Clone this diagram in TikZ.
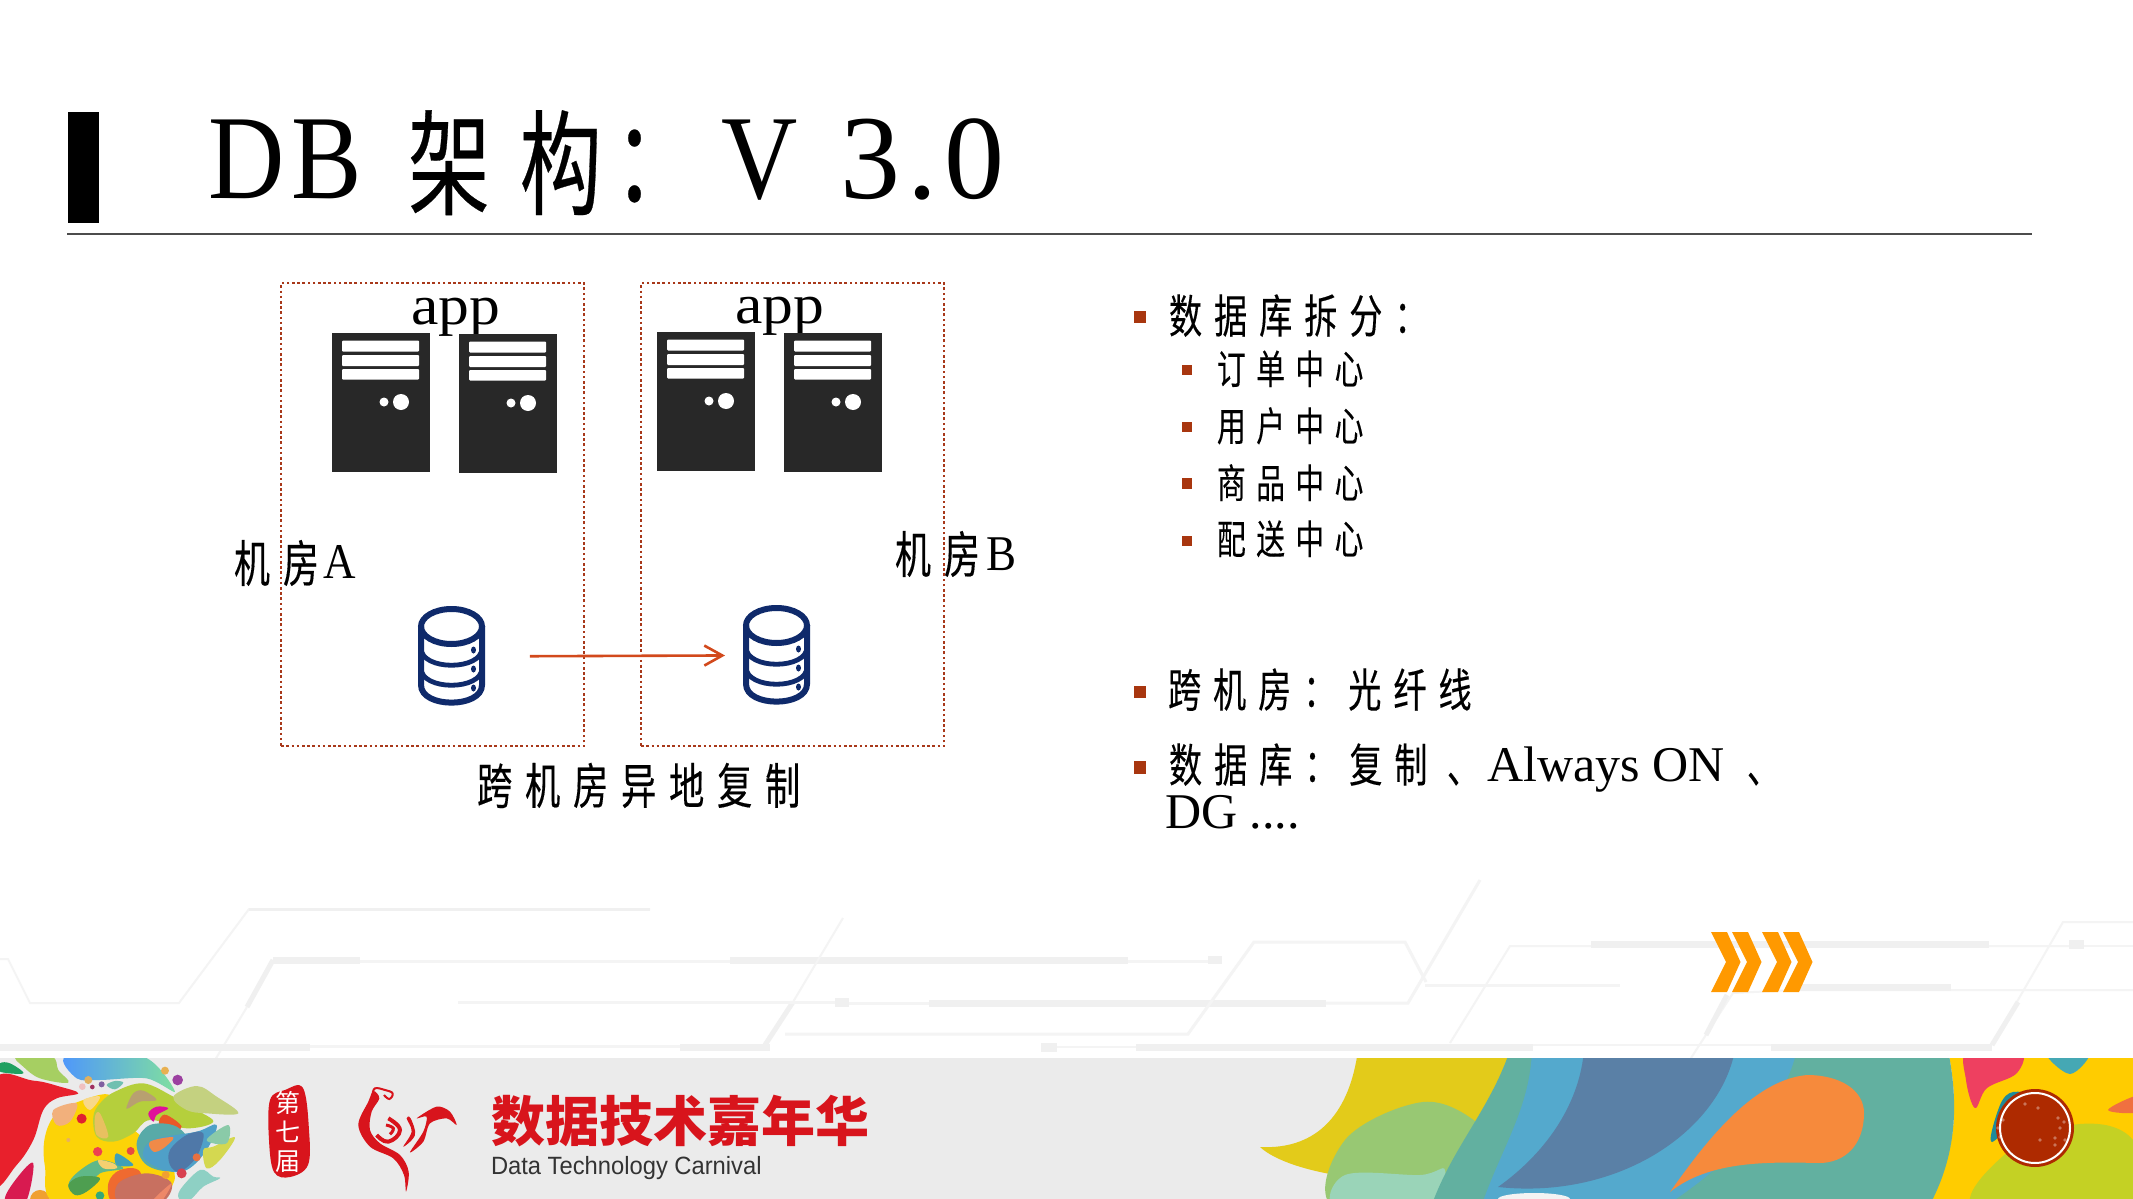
\documentclass[tikz,border=0pt]{standalone}
\usepackage{fontspec}
\usetikzlibrary{arrows.meta}
\setmainfont{Liberation Serif}
\newfontfamily\cjk[FakeStretch=0.72,LetterSpace=26,FakeBold=0.25]{Noto Sans CJK SC}
\newfontfamily\titlelat[FakeStretch=0.88,LetterSpace=6]{Liberation Serif}
\newfontfamily\titlenum[FakeStretch=1.0,LetterSpace=6]{Liberation Serif}
\newfontfamily\applat[FakeStretch=1.1]{Liberation Serif}
\newfontfamily\roomlat[FakeStretch=0.9]{Liberation Serif}
\newfontfamily\cjkplain{Noto Sans CJK SC}
\newfontfamily\banlat[FakeStretch=0.95]{Liberation Sans}
\definecolor{srv}{HTML}{282828}
\definecolor{navy}{HTML}{0F2A6B}
\definecolor{rust}{HTML}{A8360F}
\definecolor{arrowc}{HTML}{D2491C}
\definecolor{dotc}{HTML}{A8381A}
\definecolor{bant}{HTML}{EBEBEB}
\definecolor{thickl}{HTML}{F0F0F0}
\definecolor{thinl}{HTML}{F4F4F4}
\definecolor{chev}{HTML}{FF9900}
\definecolor{logored}{HTML}{D8141C}
\tikzset{
  txt/.style={inner sep=0pt,outer sep=0pt,anchor=base west,text=black},
  room/.style={draw=dotc,line width=1.2pt,dash pattern=on 1.3pt off 1.3pt,rectangle,inner sep=0pt},
  srvbox/.style={fill=srv,rectangle,inner sep=0pt,minimum width=49pt,minimum height=69.5pt,anchor=north west},
  dbbox/.style={rectangle,inner sep=0pt,minimum width=33.5pt,minimum height=50pt,anchor=north west},
  thickln/.style={draw=thickl,line width=3.5pt},
  midln/.style={draw=thickl,line width=2.5pt},
  thinln/.style={draw=thinl,line width=1pt},
  chevron/.style={fill=chev},
  bullet/.style={fill=rust},
}
\newcommand{\blob}[2]{\definecolor{tmpc}{HTML}{#1}\fill[tmpc] plot[smooth cycle,tension=.6] coordinates {#2};}
\newcommand{\spot}[4]{\definecolor{tmpc}{HTML}{#1}\fill[tmpc] (#2,#3) circle[radius=#4];}
\newcommand{\serverbox}[3]{%
  \node[srvbox] (#1) at (#2,#3) {};
  \begin{scope}[shift={(#2,#3)}]
    \fill[white,rounded corners=0.5pt] (10,7.5) rectangle (87,18.5);
    \fill[white,rounded corners=0.5pt] (10,22) rectangle (87,33);
    \fill[white,rounded corners=0.5pt] (10,36) rectangle (87,46.5);
    \fill[white] (52,69) circle[radius=4.5];
    \fill[white] (69,69) ellipse[x radius=8,y radius=8];
  \end{scope}}
\newcommand{\dbicon}[3]{%
  \node[dbbox] (#1) at (#2,#3) {};
  \begin{scope}[shift={(#2,#3)}]
    \draw[navy,line width=3pt] (33.5,20.5) ellipse[x radius=30.5,y radius=17.5];
    \draw[navy,line width=3pt] (3,20) -- (3,79) .. controls (3,102.5) and (64,102.5) .. (64,79) -- (64,20);
    \draw[navy,line width=2.4pt] (3,42) .. controls (3,65) and (64,65) .. (64,42);
    \draw[navy,line width=2.4pt] (3,62) .. controls (3,85) and (64,85) .. (64,62);
    \fill[navy] (55.5,44) ellipse[x radius=2.5,y radius=3.5];
    \fill[navy] (55.5,63) ellipse[x radius=2.5,y radius=3.5];
    \fill[navy] (55.5,82) ellipse[x radius=2.5,y radius=3.5];
  \end{scope}}
\newcommand{\chevat}[1]{\fill[chevron,shift={(#1,0)}] (1711,932) -- (1727,932) -- (1740.5,962) -- (1727,992) -- (1711,992) -- (1726,962) -- cycle;}
\begin{document}
\begin{tikzpicture}[x=0.5pt,y=-0.5pt]
\useasboundingbox (0,0) rectangle (2133,1199);
\fill[white] (0,0) rectangle (2133,1199);

% faint circuit background
\draw[thinln] (0,959) -- (8,959) -- (30,1003) -- (179,1003) -- (249,909) -- (650,909);
\draw[midln,line width=1.5pt] (249,909) -- (650,909);
\draw[thickln] (273,960) -- (360,960);
\draw[midln] (273,960) -- (247,1007);
\draw[thinln] (247,1007) -- (215,1060);
\draw[thinln,line width=1.5pt] (360,961) -- (730,961);
\draw[thickln] (730,960) -- (1128,960);
\draw[thinln,line width=1.5pt] (1128,961) -- (1212,961);
\fill[thickl] (1208,956) rectangle (1222,964);
\draw[thinln] (843,918) -- (793,1002);
\draw[midln] (793,1002) -- (765,1045);
\draw[thickln] (680,1047) -- (770,1047);
\draw[thinln,line width=1.5pt] (310,1046) -- (680,1046);
\draw[thickln] (0,1047) -- (310,1047);
\draw[thinln,line width=1.5pt] (458,1002) -- (837,1002);
\fill[thickl] (835,998) rectangle (849,1007);
\draw[thinln,line width=1.5pt] (849,1003) -- (929,1003);
\draw[thickln] (929,1003) -- (1326,1003);
\draw[thinln,line width=1.5pt] (1326,1003) -- (1408,1003) -- (1480,880);
\draw[thinln,line width=1.5pt] (785,1034) -- (1188,1034) -- (1254,942) -- (1405,942) -- (1426,982);
\draw[thinln,line width=1.5pt] (1425,985) -- (1620,985);
\fill[thickl] (1041,1043) rectangle (1057,1052);
\draw[thinln] (1057,1047) -- (1136,1047);
\draw[thickln] (1136,1047) -- (1533,1047);
\draw[thinln] (1533,1045) -- (1771,1045);
\draw[thickln] (1771,1047) -- (1992,1047);
\draw[thinln] (1450,1043) -- (1510,946) -- (2069,946);
\draw[thickln] (1591,944) -- (1989,944);
\fill[thickl] (2069,940) rectangle (2084,949);
\draw[thinln] (2084,946) -- (2133,946);
\draw[thinln] (1733,993) -- (1795,990) -- (2133,990);
\draw[thickln] (1795,987) -- (1951,987);
\draw[thinln] (1733,993) -- (1691,1058);
\draw[midln] (1727,995) -- (1706,1035);
\draw[thinln] (2133,922) -- (2063,922) -- (1992,1045);
\draw[midln] (2018,1002) -- (1992,1045);

% title
\fill[black] (68,112) rectangle (99,223);
\draw[draw=black!70,line width=1pt] (67,234) -- (2032,234);
\node[txt,font=\titlelat\fontsize{60pt}{60pt}\selectfont] (tDB) at (208,198) {DB};
\node[txt,font=\cjk\fontsize{57pt}{57pt}\selectfont] (tCN) at (408,206) {架构};
\node[txt,font=\cjk\fontsize{57pt}{57pt}\selectfont] (tCo) at (614,202) {：};
\node[txt,font=\titlelat\fontsize{60pt}{60pt}\selectfont] (tV) at (721,198) {V};
\node[txt,font=\titlenum\fontsize{60pt}{60pt}\selectfont] (tN) at (840,198) {3.0};

% rooms
\node[room,minimum width=151.5pt,minimum height=231.5pt,anchor=north west] (roomA) at (280,282) {};
\node[room,minimum width=151.5pt,minimum height=231.5pt,anchor=north west] (roomB) at (640,282) {};
\node[txt,font=\applat\fontsize{28pt}{28pt}\selectfont] (appA) at (411,324) {app};
\node[txt,font=\applat\fontsize{28pt}{28pt}\selectfont] (appB) at (735,323) {app};
\serverbox{sA1}{332}{333}
\serverbox{sA2}{459}{334}
\serverbox{sB1}{657}{332}
\serverbox{sB2}{784}{333}
\dbicon{dbA}{418}{606}
\dbicon{dbB}{743}{605}
\draw[arrowc,line width=1.3pt,-{Straight Barb[length=9pt,width=10pt]},shorten <=22pt,shorten >=9pt,yshift=0.7pt] (dbA.east) -- (dbB.west);
\node[txt,font=\cjk\fontsize{25pt}{25pt}\selectfont] (rA) at (234,582) {机房};
\node[txt,font=\roomlat\fontsize{25pt}{25pt}\selectfont] (rAl) at (323,578) {A};
\node[txt,font=\cjk\fontsize{25pt}{25pt}\selectfont] (rB) at (895,573) {机房};
\node[txt,font=\roomlat\fontsize{25pt}{25pt}\selectfont] (rBl) at (986,570) {B};
\node[txt,font=\cjk\fontsize{24.5pt}{24.5pt}\selectfont] (cap) at (477,804) {跨机房异地复制};

% bullets
\fill[bullet] (1134,311) rectangle (1146,323);
\fill[bullet] (1182,365) rectangle (1192,375);
\fill[bullet] (1182,422) rectangle (1192,432);
\fill[bullet] (1182,478) rectangle (1192,489);
\fill[bullet] (1182,535.5) rectangle (1192,546);
\fill[bullet] (1134,686) rectangle (1146,698);
\fill[bullet] (1134,761) rectangle (1146,774);
\node[txt,font=\cjk\fontsize{23pt}{23pt}\selectfont] (b1) at (1169,333) {数据库拆分：};
\node[txt,font=\cjk\fontsize{20pt}{20pt}\selectfont] (b11) at (1217,384) {订单中心};
\node[txt,font=\cjk\fontsize{20pt}{20pt}\selectfont] (b12) at (1217,441) {用户中心};
\node[txt,font=\cjk\fontsize{20pt}{20pt}\selectfont] (b13) at (1217,498) {商品中心};
\node[txt,font=\cjk\fontsize{20pt}{20pt}\selectfont] (b14) at (1217,554) {配送中心};
\node[txt,font=\cjk\fontsize{23pt}{23pt}\selectfont] (b2) at (1168,707) {跨机房：光纤线};
\node[txt,font=\cjk\fontsize{23pt}{23pt}\selectfont] (b3) at (1169,782) {数据库：复制};
\node[txt,font=\cjk\fontsize{23pt}{23pt}\selectfont] (b3m) at (1447,783) {、};
\node[txt,font=\fontsize{25pt}{25pt}\selectfont] (b3l) at (1487,781) {Always ON};
\node[txt,font=\cjk\fontsize{23pt}{23pt}\selectfont] (b3e) at (1747,783) {、};
\node[txt,font=\fontsize{25pt}{25pt}\selectfont] (b4) at (1165,828) {DG ....};

% chevrons
\chevat{0}\chevat{21}\chevat{51}\chevat{72}

% banner
\fill[bant] (0,1058) rectangle (2133,1199);
\begin{scope}
\clip (0,1058) rectangle (2133,1199);
% left splash
\begin{scope}[shift={(0,1050)},scale=0.3333]
\blob{1FA060}{(0,40) (30,40) (70,70) (0,65)}
\blob{A6CF62}{(50,20) (155,20) (175,60) (205,98) (120,85) (70,50)}
\shade[left color=blue!60!cyan!70!white,right color=teal!50!green!50!white] plot[smooth cycle,tension=.5] coordinates {(198,20) (430,20) (525,125) (440,85) (300,90) (230,85)};
\blob{E8202C}{(-20,95) (100,92) (180,110) (235,130) (170,145) (130,180) (100,270) (50,345) (-20,400)}
\blob{D81A50}{(100,340) (50,385) (15,450) (75,460)}
\spot{F0A030}{120}{450}{30}
\blob{FCD307}{(250,150) (330,135) (360,200) (500,330) (520,400) (440,460) (170,460) (135,350) (135,260) (170,190)}
\blob{B5CF3C}{(345,125) (430,100) (520,140) (580,175) (640,215) (560,235) (450,210) (400,250) (340,275) (290,260) (280,200) (300,160)}
\blob{C4D180}{(520,140) (590,108) (650,140) (715,190) (620,190) (560,180)}
\blob{B8A070}{(380,170) (400,130) (430,122) (470,150) (420,155) (385,175)}
\blob{F2B07C}{(160,180) (230,160) (210,215) (170,225)}
\blob{F8D888}{(250,150) (300,140) (270,180)}
\blob{E8C060}{(285,200) (300,190) (325,260) (290,255)}
\blob{E0109A}{(445,190) (470,170) (505,175) (470,195) (460,215)}
\blob{E85828}{(480,205) (500,195) (545,230) (510,248) (480,230)}
\blob{58AAA8}{(410,280) (450,225) (530,230) (570,290) (520,360) (440,345)}
\blob{4FA0C8}{(460,270) (590,245) (650,225) (620,300) (560,360) (490,360) (430,320)}
\blob{4F78A8}{(510,300) (560,255) (610,250) (590,320) (540,365) (510,345)}
\blob{F08A48}{(450,275) (520,262) (490,295) (460,305)}
\blob{5FB888}{(235,365) (300,330) (370,355) (300,370) (270,410) (230,435) (205,405)}
\blob{4E9E50}{(205,405) (240,380) (300,385) (260,425) (225,435)}
\blob{F4D070}{(295,330) (340,340) (350,355) (310,355)}
\blob{3FA0B8}{(350,310) (400,345) (350,345)}
\blob{EF6A30}{(325,400) (360,360) (420,365) (430,460) (340,460)}
\blob{C87060}{(355,400) (440,370) (515,400) (480,460) (360,460)}
\blob{EE8868}{(450,460) (515,400) (480,460)}
\blob{8ED0C4}{(540,420) (600,360) (640,380) (660,385) (610,410) (570,450) (540,450)}
\blob{D4D850}{(610,300) (640,290) (705,262) (660,330) (620,355)}
\blob{8ACAA8}{(620,270) (685,225) (680,280)}
\spot{E02030}{245}{206}{15}
\spot{E8B060}{205}{270}{6}
\spot{EE4050}{293}{305}{14}
\spot{E84A40}{392}{303}{12}
\spot{D84050}{545}{370}{15}
\spot{F0A030}{497}{375}{12}
\spot{E87040}{590}{322}{12}
\spot{35A878}{300}{437}{13}
\spot{E8B050}{495}{62}{12}
\spot{9C40A0}{533}{90}{16}
\spot{E0B060}{265}{90}{12}
\spot{F0C0C0}{247}{110}{10}
\spot{A03060}{277}{111}{7}
\spot{8060A0}{305}{103}{9}
\blob{70C0B0}{(320,105) (345,93) (370,98) (345,118)}
\end{scope}
% right splash
\definecolor{tmpc}{HTML}{E3CB1A}
\fill[tmpc] (1358,1050) .. controls (1350,1110) and (1320,1150) .. (1260,1147) .. controls (1290,1175) and (1400,1190) .. (1438,1170) -- (1530,1050) -- cycle;
\blob{98C873}{(1423,1102) (1480,1125) (1498,1163) (1490,1210) (1337,1210) (1345,1140)}
\blob{9AD4B8}{(1337,1210) (1345,1175) (1420,1175) (1445,1170) (1430,1210)}
\definecolor{tmpc}{HTML}{FFCC00}
\fill[tmpc] (1948,1050) .. controls (1960,1110) and (1955,1160) .. (1927,1199) -- (2133,1199) -- (2133,1050) -- cycle;
\definecolor{tmpc}{HTML}{62B0A0}
\fill[tmpc] (1510,1050) -- (1948,1050) .. controls (1960,1110) and (1955,1160) .. (1927,1210) -- (1430,1210) .. controls (1450,1150) and (1490,1110) .. (1510,1050) -- cycle;
\definecolor{tmpc}{HTML}{54A9CD}
\fill[tmpc] (1532,1050) -- (1797,1050) .. controls (1780,1120) and (1720,1170) .. (1660,1210) -- (1480,1210) .. controls (1500,1150) and (1530,1110) .. (1532,1050) -- cycle;
\definecolor{tmpc}{HTML}{5A80A6}
\fill[tmpc] (1584,1050) -- (1735,1050) .. controls (1720,1130) and (1620,1200) .. (1498,1187) .. controls (1550,1150) and (1580,1100) .. (1584,1050) -- cycle;
\definecolor{tmpc}{HTML}{F68A3C}
\fill[tmpc] (1807,1075) .. controls (1840,1075) and (1864,1090) .. (1864,1113) .. controls (1864,1145) and (1845,1163) .. (1819,1163) .. controls (1770,1162) and (1710,1160) .. (1670,1192) .. controls (1700,1150) and (1750,1080) .. (1807,1075) -- cycle;
\fill[bant!60!white] (1534,1199) ellipse[x radius=36,y radius=6];
\blob{C4D124}{(1977,1210) (2010,1150) (2080,1124) (2133,1140) (2150,1210)}
\blob{EE4060}{(1968,1050) (2020,1050) (2017,1073) (1987,1088) (1975,1108) (1966,1080)}
\blob{45A8B4}{(2045,1050) (2090,1050) (2070,1074)}
\blob{F07040}{(2108,1110) (2140,1095) (2140,1112)}
\blob{1F8A9A}{(1992,1142) (2000,1105) (2013,1092) (2030,1100)}
\definecolor{tmpc}{HTML}{AE2A00}
\fill[tmpc] (2035,1128) circle[radius=39];
\draw[white,line width=1pt] (2035,1128) circle[radius=35];
\foreach \p/\q in {2060/1128,2065/1140,2055/1138,2058/1118,2038/1108,2025/1104,2040/1140,2064/1122,1998/1128,2003/1120,2000/1137,2055/1145}{\fill[white,opacity=.35] (\p,\q) circle[radius=1.8];}
\end{scope}

% event mark
\blob{D8141C}{(270,1100) (285,1090) (303,1088) (309,1130) (308,1165) (290,1177) (274,1172) (269,1140)}
\node[inner sep=0pt,align=center,text=white,font=\cjkplain\fontsize{12.5pt}{14.5pt}\selectfont] (ed) at (288,1132) {第\\七\\届};
% bird
\begin{scope}[shift={(260,1075)},scale=0.3333]
\fill[logored] plot[smooth cycle,tension=.55] coordinates {(340,48) (325,80) (295,150) (330,215) (400,250) (432,300) (438,350) (446,290) (420,240) (360,205) (330,165) (335,110) (358,70)};
\draw[logored,line width=1pt] plot[smooth,tension=.7] coordinates {(338,60) (345,40) (375,45) (398,55) (388,72) (372,60)};
\draw[logored,line width=2pt] plot[smooth,tension=.8] coordinates {(385,130) (420,165) (385,200) (350,180)};
\draw[logored,line width=1.5pt] plot[smooth,tension=.8] coordinates {(378,150) (400,160) (390,178)};
\fill[logored] plot[smooth cycle,tension=.6] coordinates {(440,130) (455,170) (430,215) (465,180) (452,130)};
\fill[logored] plot[smooth cycle,tension=.5] coordinates {(470,130) (530,95) (570,110) (590,150) (560,130) (510,145) (490,200) (450,232) (490,170) (500,125)};
\end{scope}
\node[txt,text=logored,font=\cjkplain\bfseries\fontsize{27pt}{27pt}\selectfont] (bt) at (491,1141) {数据技术嘉年华};
\node[txt,text=black!80,font=\banlat\fontsize{12.5pt}{12.5pt}\selectfont] (bs) at (491,1174) {Data Technology Carnival};
\end{tikzpicture}
\end{document}
